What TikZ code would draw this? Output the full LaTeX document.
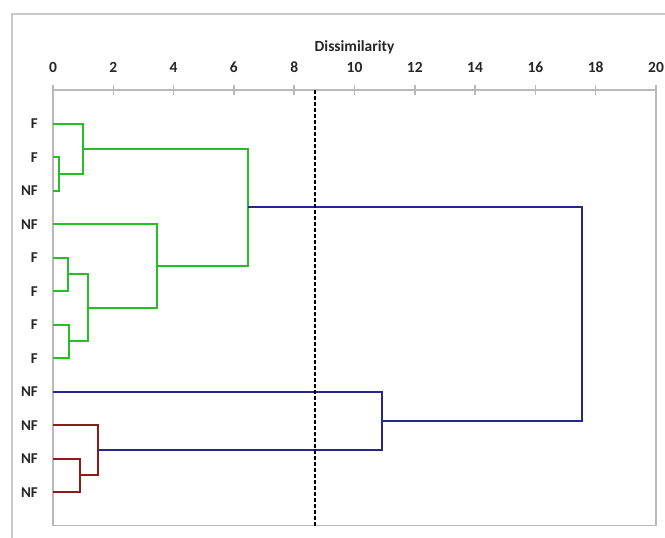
\documentclass[tikz,border=0pt]{standalone}
\usepackage{fontspec}
\setmainfont{Carlito}
\usepackage{xcolor}
\usepackage{tikz}

\definecolor{clustgreen}{RGB}{38,190,38}
\definecolor{clustblue}{RGB}{38,38,140}
\definecolor{clustred}{RGB}{140,28,28}
\definecolor{framegray}{RGB}{200,200,200}
\definecolor{axisgray}{RGB}{185,185,185}
\definecolor{textgray}{RGB}{38,38,38}

\tikzset{
  axisline/.style={draw=axisgray, line width=1.5pt},
  ticklabel/.style={inner sep=0pt, anchor=base, text=textgray,
    font=\bfseries\fontsize{15.5}{17}\selectfont},
  leaflabel/.style={inner sep=0pt, anchor=base east, text=textgray,
    font=\bfseries\fontsize{15}{17}\selectfont},
  grnlink/.style={draw=clustgreen, line width=2pt},
  bluelink/.style={draw=clustblue, line width=2pt},
  redlink/.style={draw=clustred, line width=2pt},
  cutline/.style={draw=black, line width=1.3pt, dash pattern=on 4pt off 2pt},
}

\begin{document}
\begin{tikzpicture}[x=1pt, y=-1pt]
  \useasboundingbox (0,0) rectangle (665,538);
  \draw[draw=framegray, line width=2pt] (12,538) -- (12,14) -- (665,14);

  \begin{scope}[shift={(53,90)}, x=30.15pt, y=-33.5pt]
    % plot area and distance axis
    \draw[axisline] (0,0) rectangle (20,13);
    \foreach \t in {0,2,...,20} {
      \draw[axisline] (\t,0) ++(0,5pt) -- ++(0,-10pt);
      \node[ticklabel, yshift=18pt] (t\t) at (\t,0) {\t};
    }
    \node[ticklabel, yshift=38pt] (dtitle) at (10,0) {Dissimilarity};

    % leaves
    \foreach \lab [count=\i] in {F,F,NF,NF,F,F,F,F,NF,NF,NF,NF} {
      \coordinate (l\i) at (0,\i);
      \node[leaflabel, xshift=-15pt, yshift=-5pt] (n\i) at (l\i) {\lab};
    }

    % merge points (distance, height)
    \coordinate (m23) at (0.2,2.5);
    \coordinate (m13) at (1.0,1.75);
    \coordinate (m56) at (0.5,5.5);
    \coordinate (m78) at (0.52,7.5);
    \coordinate (m58) at (1.16,6.5);
    \coordinate (m48) at (3.44,5.25);
    \coordinate (m18) at (6.46,3.5);
    \coordinate (m1112) at (0.9,11.5);
    \coordinate (m1012) at (1.49,10.75);
    \coordinate (m912) at (10.9,9.875);
    \coordinate (mall) at (17.55,6.6875);

    % first cluster
    \draw[grnlink] (l2) -| (m23) |- (l3);
    \draw[grnlink] (l1) -| (m13) |- (m23);
    \draw[grnlink] (l5) -| (m56) |- (l6);
    \draw[grnlink] (l7) -| (m78) |- (l8);
    \draw[grnlink] (m56) -| (m58) |- (m78);
    \draw[grnlink] (l4) -| (m48) |- (m58);
    \draw[grnlink] (m13) -| (m18) |- (m48);

    % second cluster
    \draw[redlink] (l11) -| (m1112) |- (l12);
    \draw[redlink] (l10) -| (m1012) |- (m1112);

    % upper links
    \draw[bluelink] (l9) -| (m912) |- (m1012);
    \draw[bluelink] (m18) -| (mall) |- (m912);

    % cut level
    \draw[cutline] (8.69,0) -- (8.69,13);
  \end{scope}
\end{tikzpicture}
\end{document}
